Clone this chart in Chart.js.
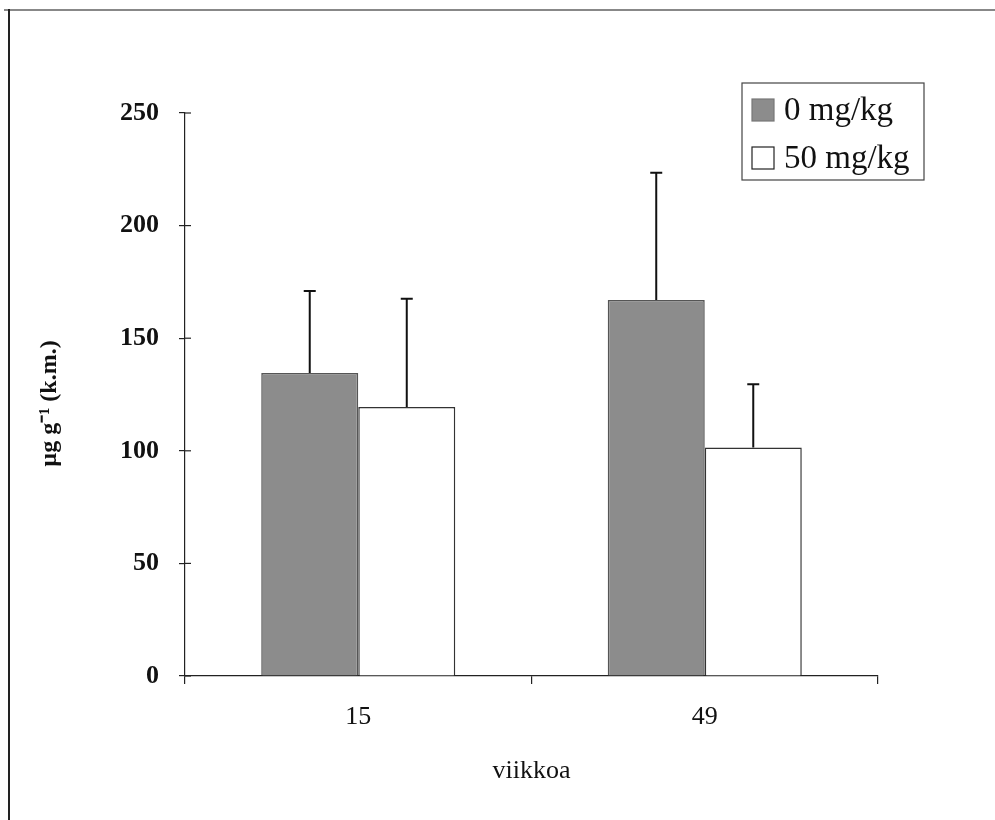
<!DOCTYPE html>
<html>
<head>
<meta charset="utf-8">
<script src="https://cdn.jsdelivr.net/npm/chart.js@4.4.0/dist/chart.umd.min.js"></script>
<style>
  body { margin: 0; background: #fff; overflow: hidden; }
  #wrap { position: relative; width: 995px; height: 820px; }
</style>
</head>
<body>
<div id="wrap"><canvas id="myChart" width="995" height="820"></canvas></div>
<script>
// values
const weeks = ['15', '49'];
const seriesNames = ['0 mg/kg', '50 mg/kg'];
const dose0 = [134.5, 167];
const dose50 = [119.5, 101.5];
const dose0Err = [36.5, 56.5];
const dose50Err = [48, 28];
const yTicks = [0, 50, 100, 150, 200, 250];

const serif = "'Liberation Serif', 'Times New Roman', serif";

// page frame (top + left edge only, like the scan)
const framePlugin = {
  id: 'frame',
  beforeDraw(chart) {
    const c = chart.ctx;
    c.save();
    c.fillStyle = '#fff';
    c.fillRect(0, 0, chart.width, chart.height);
    c.strokeStyle = '#888';
    c.lineWidth = 2;
    c.beginPath();
    c.moveTo(4, 10);
    c.lineTo(995, 10);
    c.stroke();
    c.strokeStyle = '#222';
    c.beginPath();
    c.moveTo(9, 9);
    c.lineTo(9, 820);
    c.stroke();
    c.restore();
  }
};

// upward error bars + inner half of the y ticks
const errPlugin = {
  id: 'errbars',
  afterDatasetsDraw(chart) {
    const c = chart.ctx;
    const y = chart.scales.y;
    c.save();
    c.strokeStyle = '#111';
    c.lineWidth = 2;
    chart.data.datasets.forEach((ds, i) => {
      const meta = chart.getDatasetMeta(i);
      meta.data.forEach((bar, j) => {
        const top = y.getPixelForValue(ds.data[j] + ds.err[j]);
        c.beginPath();
        c.moveTo(bar.x, bar.y);
        c.lineTo(bar.x, top);
        c.moveTo(bar.x - 6, top);
        c.lineTo(bar.x + 6, top);
        c.stroke();
      });
    });
    c.lineWidth = 1.2;
    c.strokeStyle = '#222';
    y.ticks.forEach(t => {
      const py = y.getPixelForValue(t.value);
      c.beginPath();
      c.moveTo(chart.chartArea.left, py);
      c.lineTo(chart.chartArea.left + 6, py);
      c.stroke();
    });
    c.restore();
  }
};

// boxed legend in the upper right
const legendBox = {
  id: 'legendBox',
  afterDraw(chart) {
    const c = chart.ctx;
    c.save();
    c.strokeStyle = '#444';
    c.lineWidth = 1.2;
    c.strokeRect(742, 83, 182, 97);
    c.font = '33px ' + serif;
    c.textBaseline = 'middle';
    chart.data.datasets.forEach((ds, i) => {
      const cy = 110 + i * 48;
      c.fillStyle = ds.backgroundColor;
      c.fillRect(752, cy - 11, 22, 22);
      c.strokeStyle = i === 0 ? '#777' : '#222';
      c.lineWidth = 1.2;
      c.strokeRect(752, cy - 11, 22, 22);
      c.fillStyle = '#111';
      c.fillText(ds.label, 784, cy + 1);
    });
    c.restore();
  }
};

const ctx = document.getElementById('myChart');

new Chart(ctx, {
  type: 'bar',
  data: {
    labels: weeks,
    datasets: [{
      label: seriesNames[0],
      data: dose0,
      err: dose0Err,
      backgroundColor: '#8c8c8c',
      borderColor: '#555',
      borderWidth: 1.5,
      borderSkipped: 'bottom'
    }, {
      label: seriesNames[1],
      data: dose50,
      err: dose50Err,
      backgroundColor: '#ffffff',
      borderColor: '#333',
      borderWidth: 1.5,
      borderSkipped: 'bottom'
    }]
  },
  options: {
    responsive: false,
    animation: false,
    devicePixelRatio: 1,
    layout: { padding: { top: 113, right: 117, left: 0, bottom: 0 } },
    datasets: { bar: { categoryPercentage: 0.56, barPercentage: 1.0 } },
    plugins: {
      legend: { display: false },
      tooltip: { enabled: false }
    },
    scales: {
      x: {
        afterFit: s => { s.height = 144; },
        grid: { display: true, drawOnChartArea: false, offset: true, tickLength: 8, color: '#222', lineWidth: 1.2 },
        border: { color: '#222', width: 1.2 },
        ticks: { color: '#111', font: { family: serif, size: 26 }, padding: 18 },
        title: {
          display: true,
          text: 'viikkoa',
          color: '#111',
          font: { family: serif, size: 26 },
          padding: { top: 0, bottom: 33 }
        }
      },
      y: {
        min: 0,
        max: 250,
        afterFit: s => { s.width = 185; },
        afterBuildTicks: s => { s.ticks = yTicks.map(v => ({ value: v })); },
        grid: { display: true, drawOnChartArea: false, tickLength: 6, color: '#222', lineWidth: 1.2 },
        border: { color: '#222', width: 1.2 },
        ticks: { color: '#111', font: { family: serif, size: 26, weight: 'bold' }, padding: 20 },
        title: {
          display: true,
          text: 'µg g⁻¹ (k.m.)   ',
          color: '#111',
          font: { family: serif, size: 24, weight: 'bold' },
          padding: { top: 35, bottom: 0 }
        }
      }
    }
  },
  plugins: [framePlugin, errPlugin, legendBox]
});
</script>
</body>
</html>
